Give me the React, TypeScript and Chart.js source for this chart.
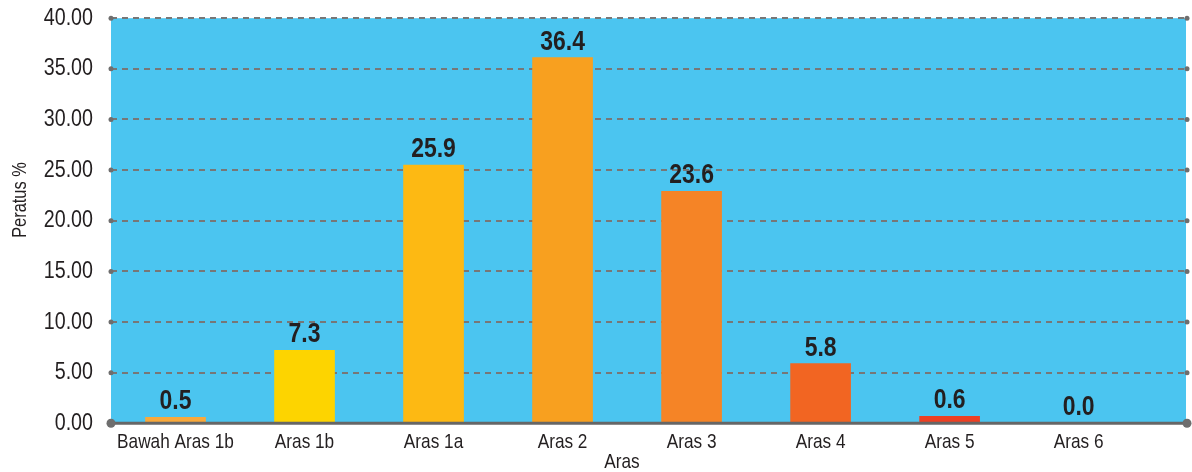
import React, { useEffect, useRef } from "react";
import { Chart, registerables } from "chart.js";

Chart.register(...registerables);

const categories = [
  "Bawah Aras 1b",
  "Aras 1b",
  "Aras 1a",
  "Aras 2",
  "Aras 3",
  "Aras 4",
  "Aras 5",
  "Aras 6",
];
// bar heights
const barValues = [0.6, 7.2, 25.5, 36.1, 22.9, 5.9, 0.7, 0.0];
// printed value labels
const valueLabels = ["0.5", "7.3", "25.9", "36.4", "23.6", "5.8", "0.6", "0.0"];
const barColors = [
  "#F9A93B",
  "#FDD400",
  "#FDB913",
  "#F8A01F",
  "#F58426",
  "#F26522",
  "#EE4023",
  "#EE4023",
];
const yMin = 0;
const yMax = 40;
const yStep = 5;
const xTitle = "Aras";
const yTitle = "Peratus %";

const FONT = "'Liberation Sans', Arial, sans-serif";
const NARROW = 0.82;

const decorPlugin = {
  id: "decor",
  beforeDraw(chart: any) {
    const { ctx, chartArea } = chart;
    ctx.save();
    ctx.fillStyle = "#4BC5F0";
    ctx.fillRect(chartArea.left, chartArea.top, chartArea.right - chartArea.left - 1, chartArea.bottom - chartArea.top - 1);
    ctx.restore();
  },
  afterDatasetsDraw(chart: any) {
    const { ctx, chartArea } = chart;
    const y = chart.scales.y;
    ctx.save();
    ctx.strokeStyle = "#666666";
    ctx.lineWidth = 3;
    ctx.beginPath();
    ctx.moveTo(chartArea.left, chartArea.bottom);
    ctx.lineTo(chartArea.right, chartArea.bottom);
    ctx.stroke();
    ctx.fillStyle = "#6e6e6e";
    y.ticks.forEach((t: any) => {
      const py = y.getPixelForValue(t.value);
      const r = t.value === 0 ? 4.5 : 2.5;
      [chartArea.left, chartArea.right].forEach((px: number) => {
        ctx.beginPath();
        ctx.arc(px, py, r, 0, Math.PI * 2);
        ctx.fill();
      });
    });
    const meta = chart.getDatasetMeta(0);
    ctx.fillStyle = "#231F20";
    ctx.font = `bold 28px ${FONT}`;
    ctx.textAlign = "center";
    ctx.textBaseline = "alphabetic";
    meta.data.forEach((bar: any, i: number) => {
      ctx.fillText(valueLabels[i], bar.x, bar.y - 8);
    });
    // axis titles
    ctx.font = `21px ${FONT}`;
    ctx.textBaseline = "middle";
    ctx.fillText(xTitle, 622, 462);
    ctx.save();
    ctx.translate(20.5, 200);
    ctx.rotate(-Math.PI / 2);
    ctx.font = `20px ${FONT}`;
    ctx.fillText(yTitle, 0, 0);
    ctx.restore();
    ctx.restore();
  },
};

export default function App() {
  const ref = useRef<HTMLCanvasElement>(null);
  useEffect(() => {
    if (!ref.current) return;
    // condensed lettering: draw every text narrowed horizontally
    const c2d = ref.current.getContext("2d") as any;
    const origFill = c2d.fillText.bind(c2d);
    c2d.fillText = (text: string, x: number, y: number, maxWidth?: number) => {
      c2d.save();
      c2d.translate(x, y);
      c2d.scale(NARROW, 1);
      if (maxWidth !== undefined) origFill(text, 0, 0, maxWidth / NARROW);
      else origFill(text, 0, 0);
      c2d.restore();
    };
    const chart = new Chart(ref.current, {
      type: "bar",
      data: {
        datasets: [
          {
            data: categories.map((_, i) => ({ x: i, y: barValues[i] })),
            backgroundColor: barColors,
            barThickness: 60,
            borderWidth: 0,
          },
        ],
      },
      options: {
        animation: false,
        responsive: false,
        events: [],
        layout: { padding: { top: 18.2, right: 5, bottom: 0, left: 0 } },
        plugins: {
          legend: { display: false },
          tooltip: { enabled: false },
        },
        scales: {
          x: {
            type: "linear",
            min: -0.5,
            max: 7.84,
            offset: false,
            grid: { display: false, drawTicks: false },
            border: { display: false },
            afterBuildTicks: (s: any) => {
              s.ticks = categories.map((_, i) => ({ value: i }));
            },
            afterFit: (s: any) => {
              s.height = 48.7;
              s.paddingLeft = 0;
              s.paddingRight = 0;
            },
            ticks: {
              autoSkip: false,
              maxRotation: 0,
              padding: 8,
              color: "#231F20",
              font: { family: FONT, size: 21, lineHeight: 1 },
              callback: (v: any, i: number) => categories[i] ?? "",
            },
          },
          y: {
            min: yMin,
            max: yMax,
            afterFit: (s: any) => {
              s.width = 111;
              s.paddingTop = 0;
              s.paddingBottom = 0;
            },
            grid: {
              color: "#777777",
              lineWidth: 2,
              drawTicks: false,
            },
            border: { display: false, dash: [6, 5] },
            ticks: {
              stepSize: yStep,
              padding: 18,
              color: "#231F20",
              font: { family: FONT, size: 24, lineHeight: 1 },
              callback: (v: any) => Number(v).toFixed(2),
            },
          },
        },
      },
      plugins: [decorPlugin],
    } as any);
    return () => chart.destroy();
  }, []);
  return (
    <div style={{ position: "fixed", left: 0, top: 0, width: 1192, height: 472, background: "#fff" }}>
      <canvas ref={ref} width={1192} height={472} style={{ display: "block" }} />
    </div>
  );
}
